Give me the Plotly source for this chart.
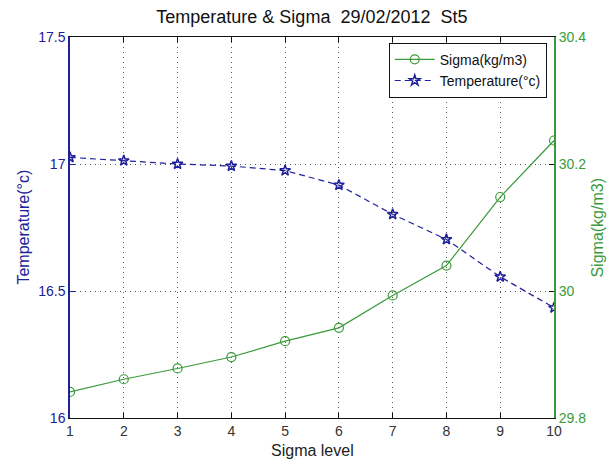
import plotly.graph_objects as go

# Station St5, 29/02/2012
sigma_level = [1, 2, 3, 4, 5, 6, 7, 8, 9, 10]
temperature = [17.026, 17.013, 17.000, 16.992, 16.974, 16.917, 16.802, 16.703, 16.556, 16.434]
sigma = [29.841, 29.861, 29.878, 29.896, 29.921, 29.942, 29.993, 30.040, 30.148, 30.237]

temp_ticks = [16, 16.5, 17, 17.5]
temp_tick_text = ["16", "16.5", "17", "17.5"]
sigma_ticks = [29.8, 30.0, 30.2, 30.4]
sigma_tick_text = ["29.8", "30", "30.2", "30.4"]

BLUE = "#20209a"
GREEN = "#3a9a3a"
FONT = "Liberation Sans, Arial, sans-serif"
GRID_DASH = "1px,4px"

fig = go.Figure()

fig.add_trace(go.Scatter(
    x=sigma_level, y=sigma, name="Sigma(kg/m3)", yaxis="y2",
    mode="lines+markers",
    line=dict(color=GREEN, width=1.2),
    marker=dict(symbol="circle-open", size=9, color=GREEN, line=dict(width=1.2)),
))
fig.add_trace(go.Scatter(
    x=sigma_level, y=temperature, name="Temperature(°c)", yaxis="y",
    mode="lines+markers",
    line=dict(color=BLUE, width=1.2, dash="6px,4px"),
    marker=dict(symbol="star-open", size=8, color=BLUE, line=dict(width=1.5)),
))

# Axis titles placed as paper-anchored labels
axis_labels = [
    dict(text="Temperature(°c)", x=-0.097, y=0.5, textangle=-90, color=BLUE),
    dict(text="Sigma(kg/m3)", x=1.089, y=0.5, textangle=-90, color=GREEN),
    dict(text="Sigma level", x=0.5, y=-0.084, textangle=0, color="#222"),
]
annotations = [
    dict(text=a["text"], x=a["x"], y=a["y"], xref="paper", yref="paper",
         xanchor="center", yanchor="middle", textangle=a["textangle"],
         showarrow=False, font=dict(size=16, color=a["color"], family=FONT))
    for a in axis_labels
]

fig.update_layout(
    width=614, height=461,
    margin=dict(l=70, r=60, t=37, b=43),
    paper_bgcolor="white", plot_bgcolor="white",
    font=dict(family=FONT, size=13, color="#222"),
    title=dict(text="Temperature &amp; Sigma  29/02/2012  St5",
               x=0.508, xanchor="center", y=0.963, yanchor="middle",
               font=dict(size=18, color="#111")),
    showlegend=True,
    legend=dict(x=0.985, xanchor="right", y=0.985, yanchor="top",
                bgcolor="white", bordercolor="#111", borderwidth=1,
                font=dict(size=14, color="#111"),
                itemwidth=40, tracegroupgap=0),
    annotations=annotations,
    xaxis=dict(
        range=[1, 10], tickvals=sigma_level, ticktext=[str(v) for v in sigma_level],
        showline=True, linecolor="#111", linewidth=1, mirror="ticks",
        ticks="inside", ticklen=5, tickcolor="#111",
        showgrid=True, gridcolor="#555", griddash=GRID_DASH, gridwidth=1,
        zeroline=False, automargin=False,
        tickfont=dict(size=14, color="#333"),
    ),
    yaxis=dict(
        range=[16, 17.5], tickvals=temp_ticks, ticktext=temp_tick_text,
        showline=True, linecolor=BLUE, linewidth=1.5,
        ticks="inside", ticklen=5, tickcolor=BLUE,
        showgrid=True, gridcolor="#555", griddash=GRID_DASH, gridwidth=1,
        zeroline=False, automargin=False,
        tickfont=dict(size=14, color=BLUE),
    ),
    yaxis2=dict(
        range=[29.8, 30.4], tickvals=sigma_ticks, ticktext=sigma_tick_text,
        overlaying="y", side="right",
        showline=True, linecolor=GREEN, linewidth=2,
        ticks="inside", ticklen=5, tickcolor="#111",
        showgrid=False, zeroline=False, automargin=False,
        tickfont=dict(size=14, color=GREEN),
    ),
)

fig.write_html("out.html")
